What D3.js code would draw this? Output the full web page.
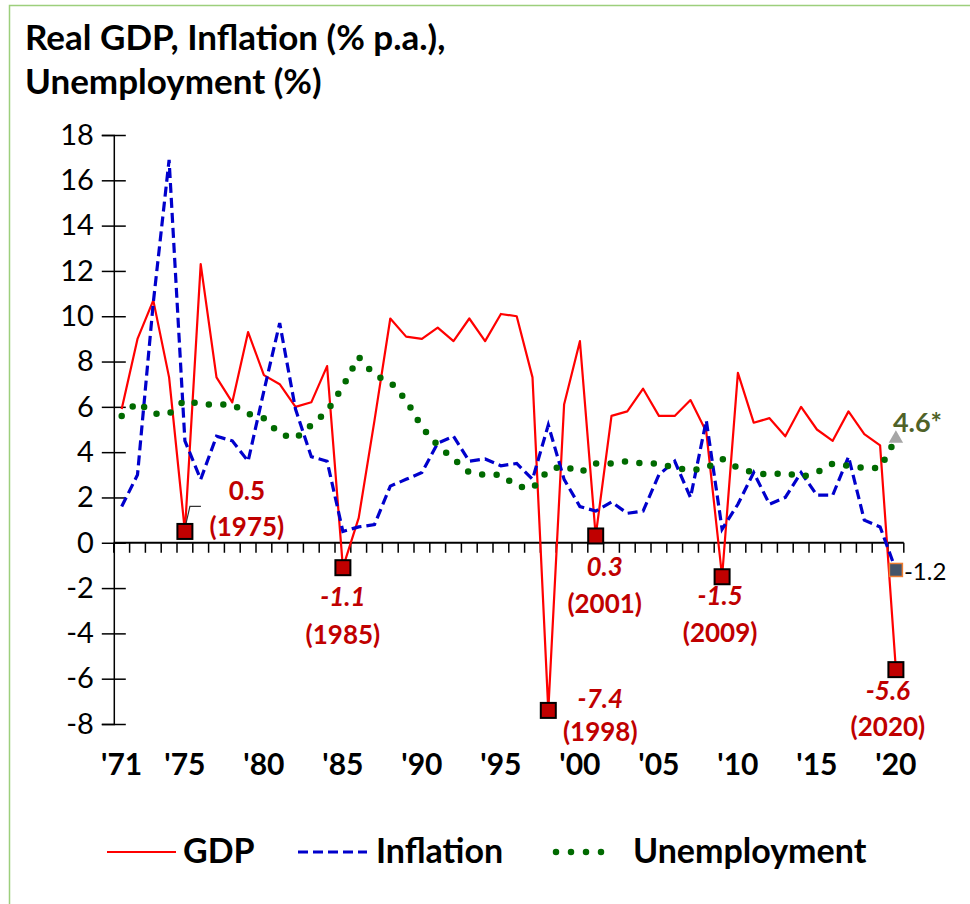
<!DOCTYPE html>
<html>
<head>
<meta charset="utf-8">
<script src="https://cdn.jsdelivr.net/npm/d3@7"></script>
<style>
    body { margin: 0; background: #fff; }
    svg { display: block; font-family: Lato, "Open Sans", sans-serif; }
</style>
</head>
<body>
<div id="graph"></div>
<script>
"use strict";
// chart values
const years = d3.range(1971, 2021);
const gdp = [5.9, 9.0, 10.7, 7.3, 0.5, 12.3, 7.3, 6.2, 9.3, 7.4,
             7.0, 6.0, 6.2, 7.8, -1.1, 1.1, 5.4, 9.9, 9.1, 9.0,
             9.5, 8.9, 9.9, 8.9, 10.1, 10.0, 7.3, -7.4, 6.1, 8.9,
             0.3, 5.6, 5.8, 6.8, 5.6, 5.6, 6.3, 4.9, -1.5, 7.5,
             5.3, 5.5, 4.7, 6.0, 5.0, 4.5, 5.8, 4.8, 4.3, -5.6];
const inflation = [1.6, 3.0, 10.6, 16.9, 4.5, 2.8, 4.7, 4.5, 3.6, 6.7,
                   9.7, 5.9, 3.8, 3.6, 0.5, 0.7, 0.8, 2.5, 2.8, 3.1,
                   4.4, 4.7, 3.6, 3.7, 3.4, 3.5, 2.8, 5.2, 2.8, 1.6,
                   1.4, 1.8, 1.3, 1.4, 3.0, 3.6, 2.0, 5.4, 0.6, 1.7,
                   3.1, 1.7, 2.0, 3.1, 2.1, 2.1, 3.8, 1.0, 0.7, -1.2];
const unemployment = [5.6, 6.2, 5.7, 5.7, 6.3, 6.1, 6.1, 6.1, 5.7, 5.5,
                      4.8, 4.6, 5.2, 5.8, 6.9, 8.2, 7.4, 7.1, 6.3, 5.1,
                      4.3, 3.7, 3.1, 3.0, 3.0, 2.5, 2.4, 3.2, 3.4, 3.1,
                      3.5, 3.5, 3.6, 3.5, 3.5, 3.3, 3.2, 3.3, 3.7, 3.3,
                      3.1, 3.0, 3.1, 2.9, 3.1, 3.5, 3.4, 3.3, 3.3, 4.6];
const yTicks = [-8, -6, -4, -2, 0, 2, 4, 6, 8, 10, 12, 14, 16, 18];
const xLabelYears = [1971, 1975, 1980, 1985, 1990, 1995, 2000, 2005, 2010, 2015, 2020];
const lowYears = [1975, 1985, 1998, 2001, 2009, 2020];
const lastYear = 2020;

(function() {
    const svgSize = { width: 970, height: 904 };
    const plot = { left: 113.8, right: 903.8, top: 135, bottom: 724 };
    const red = "#ff0000", blue = "#0000cc", green = "#006a00", darkRed = "#c00000";

    // label offsets from each low-point marker (value line, year line)
    const lowLabelPos = {
        1975: { dx: 62, dy: -41, dx2: 62, dy2: -5, italic: false },
        1985: { dx: 0, dy: 29, dx2: 0, dy2: 67, italic: true },
        1998: { dx: 52, dy: -12, dx2: 52, dy2: 21, italic: true },
        2001: { dx: 9, dy: 31, dx2: 9, dy2: 68, italic: true },
        2009: { dx: -2, dy: 19, dx2: -2, dy2: 56, italic: true },
        2020: { dx: -8, dy: 21, dx2: -8, dy2: 57, italic: true }
    };

    window.addEventListener("load", init);

    function init() {
        const svg = d3.select("#graph")
            .append("svg")
                .attr("width", svgSize.width)
                .attr("height", svgSize.height);

        svg.append("rect")
            .attr("x", 9.5).attr("y", 5.5)
            .attr("width", 1000).attr("height", 1000)
            .attr("fill", "none")
            .attr("stroke", "#9dcf7c")
            .attr("stroke-width", 1.5);

        svg.append("text")
            .attr("x", 25).attr("y", 50)
            .attr("font-size", 35).attr("font-weight", "bold")
            .text("Real GDP, Inflation (% p.a.),");
        svg.append("text")
            .attr("x", 25).attr("y", 94)
            .attr("font-size", 35).attr("font-weight", "bold")
            .text("Unemployment (%)");

        const xScale = d3.scaleBand()
            .domain(years)
            .range([plot.left, plot.right]);
        const cx = (yr) => xScale(yr) + xScale.bandwidth() / 2;
        const yScale = d3.scaleLinear()
            .domain([-8, 18])
            .range([plot.bottom, plot.top]);

        drawAxes(svg, xScale, yScale, cx);
        drawLines(svg, cx, yScale);
        drawMarkers(svg, cx, yScale);
        drawLegend(svg);
    }

    function drawAxes(svg, xScale, yScale, cx) {
        const yAxis = svg.append("g")
            .attr("transform", "translate(" + plot.left + ",0)")
            .call(d3.axisLeft(yScale)
                .tickValues(yTicks)
                .tickFormat((d) => String(d))
                .tickSize(12)
                .tickPadding(8));
        yAxis.select(".domain").attr("stroke", "#000").attr("stroke-width", 1.5);
        yAxis.selectAll(".tick line").attr("x1", 12).attr("stroke-width", 1.5);
        yAxis.selectAll(".tick text")
            .attr("font-size", 29)
            .attr("font-family", "Lato, sans-serif")
            .attr("fill", "#000");

        // category axis along zero, ticks between categories
        const y0 = yScale(0);
        const tickPos = years.map((yr) => xScale(yr)).concat([plot.right]);
        svg.append("line")
            .attr("x1", plot.left).attr("x2", plot.right)
            .attr("y1", y0).attr("y2", y0)
            .attr("stroke", "#000").attr("stroke-width", 2);
        svg.selectAll(".xtick")
            .data(tickPos)
            .enter()
            .append("line")
                .attr("x1", (d) => d).attr("x2", (d) => d)
                .attr("y1", y0).attr("y2", y0 + 10)
                .attr("stroke", "#000").attr("stroke-width", 1.5);

        svg.selectAll(".xlabel")
            .data(xLabelYears)
            .enter()
            .append("text")
                .attr("x", (d) => cx(d))
                .attr("y", 775)
                .attr("text-anchor", "middle")
                .attr("font-size", 30)
                .attr("font-weight", "bold")
                .text((d) => "'" + String(d).slice(2));
    }

    function drawLines(svg, cx, yScale) {
        const line = d3.line()
            .x((d, i) => cx(years[i]))
            .y((d) => yScale(d));

        svg.append("path")
            .datum(gdp)
            .attr("d", line)
            .attr("fill", "none")
            .attr("stroke", red)
            .attr("stroke-width", 2.2)
            .attr("stroke-linejoin", "round");

        svg.append("path")
            .datum(inflation)
            .attr("d", line)
            .attr("fill", "none")
            .attr("stroke", blue)
            .attr("stroke-width", 3.2)
            .attr("stroke-dasharray", "10,5");

        svg.append("path")
            .datum(unemployment)
            .attr("d", line)
            .attr("fill", "none")
            .attr("stroke", green)
            .attr("stroke-width", 6.5)
            .attr("stroke-linecap", "round")
            .attr("stroke-dasharray", "0,14.5");
    }

    function drawMarkers(svg, cx, yScale) {
        const s = 15;
        const lows = lowYears.map((yr) => ({ year: yr, value: gdp[years.indexOf(yr)] }));

        // leader line for the 1975 label
        const p75 = lows[0];
        svg.append("polyline")
            .attr("points", [
                [cx(p75.year), yScale(p75.value) - 3],
                [cx(p75.year) + 5, yScale(p75.value) - 25],
                [cx(p75.year) + 16, yScale(p75.value) - 25]
            ].join(" "))
            .attr("fill", "none")
            .attr("stroke", "#333")
            .attr("stroke-width", 1.2);

        svg.selectAll(".low")
            .data(lows)
            .enter()
            .append("rect")
                .attr("x", (d) => cx(d.year) - s / 2)
                .attr("y", (d) => yScale(d.value) - s / 2)
                .attr("width", s).attr("height", s)
                .attr("fill", darkRed)
                .attr("stroke", "#000")
                .attr("stroke-width", 2);

        lows.forEach(function(d) {
            const pos = lowLabelPos[d.year];
            const mx = cx(d.year), my = yScale(d.value);
            svg.append("text")
                .attr("x", mx + pos.dx).attr("y", my + pos.dy)
                .attr("dy", "0.35em")
                .attr("text-anchor", "middle")
                .attr("font-size", 26).attr("font-weight", "bold")
                .attr("font-style", pos.italic ? "italic" : "normal")
                .attr("fill", darkRed)
                .text(d.value.toFixed(1));
            svg.append("text")
                .attr("x", mx + pos.dx2).attr("y", my + pos.dy2)
                .attr("dy", "0.35em")
                .attr("text-anchor", "middle")
                .attr("font-size", 26).attr("font-weight", "bold")
                .attr("fill", darkRed)
                .text("(" + d.year + ")");
        });

        // latest inflation point
        const infLast = inflation[years.indexOf(lastYear)];
        svg.append("rect")
            .attr("x", cx(lastYear) - 6.5)
            .attr("y", yScale(infLast) - 6.5)
            .attr("width", 13).attr("height", 13)
            .attr("fill", "#44546a")
            .attr("stroke", "#ed7d31")
            .attr("stroke-width", 1.5);
        svg.append("text")
            .attr("x", cx(lastYear) + 8)
            .attr("y", yScale(infLast) + 2)
            .attr("dy", "0.35em")
            .attr("font-size", 24)
            .text(infLast.toFixed(1));

        // latest unemployment point
        const unLast = unemployment[years.indexOf(lastYear)];
        svg.append("path")
            .attr("d", d3.symbol().type(d3.symbolTriangle).size(90))
            .attr("transform", "translate(" + cx(lastYear) + "," + yScale(unLast) + ")")
            .attr("fill", "#a6a6a6");
        svg.append("text")
            .attr("x", cx(lastYear) - 3)
            .attr("y", yScale(unLast) - 16)
            .attr("dy", "0.35em")
            .attr("font-size", 27).attr("font-weight", "bold")
            .attr("fill", "#4f6228")
            .text(unLast.toFixed(1) + "*");
    }

    function drawLegend(svg) {
        const ly = 852;
        const items = [
            { name: "GDP", x1: 107, x2: 176, tx: 183, stroke: red, width: 2.2, dash: null, cap: "butt" },
            { name: "Inflation", x1: 298, x2: 367, tx: 376, stroke: blue, width: 3.2, dash: "10,5", cap: "butt" },
            { name: "Unemployment", x1: 556, x2: 616, tx: 633, stroke: green, width: 6.5, dash: "0,15", cap: "round" }
        ];
        const g = svg.append("g");
        items.forEach(function(it) {
            g.append("line")
                .attr("x1", it.x1).attr("x2", it.x2)
                .attr("y1", ly).attr("y2", ly)
                .attr("stroke", it.stroke)
                .attr("stroke-width", it.width)
                .attr("stroke-linecap", it.cap)
                .attr("stroke-dasharray", it.dash);
            g.append("text")
                .attr("x", it.tx).attr("y", ly + 11)
                .attr("font-size", 34).attr("font-weight", "bold")
                .text(it.name);
        });
    }
})();
</script>
</body>
</html>
